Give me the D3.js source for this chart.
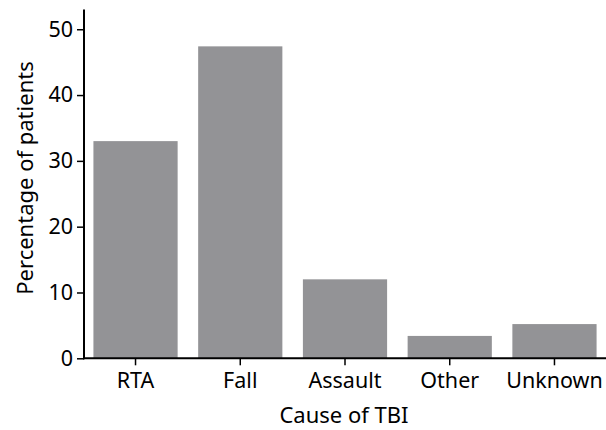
<!DOCTYPE html>
<html><head><meta charset="utf-8">
<script src="https://cdn.jsdelivr.net/npm/d3@7"></script>
<style>body{margin:0;background:#fff}</style>
</head><body>
<svg id="c" width="606" height="430"></svg>
<script>
const categories = ["RTA", "Fall", "Assault", "Other", "Unknown"];
const values = [33, 47.4, 12, 3.4, 5.2];
const yTicks = [0, 10, 20, 30, 40, 50];

const svg = d3.select("#c");
const font = "'Noto Sans', 'Open Sans', sans-serif";
const x0 = 84, x1 = 606, yBase = 358.3, yTop = 9.5;
const x = d3.scaleBand().domain(categories).range([x0, x1]).paddingInner(0.196).paddingOuter(0.09);
const y = d3.scaleLinear().domain([0, 53]).range([yBase, yTop]);

svg.selectAll("rect.bar").data(values).join("rect")
  .attr("class", "bar")
  .attr("x", (d, i) => x(categories[i]))
  .attr("width", x.bandwidth())
  .attr("y", d => y(d))
  .attr("height", d => y(0) - y(d))
  .attr("fill", "#939396");

const yAxis = svg.append("g").attr("transform", `translate(${x0},0)`)
  .call(d3.axisLeft(y).tickValues(yTicks).tickSize(7).tickPadding(4));
const xAxis = svg.append("g").attr("transform", `translate(0,${yBase})`)
  .call(d3.axisBottom(x).tickSize(7).tickPadding(7).tickSizeOuter(0));

[yAxis, xAxis].forEach(g => {
  g.select(".domain").attr("stroke", "#000").attr("stroke-width", 2);
  g.selectAll(".tick line").attr("stroke", "#000").attr("stroke-width", 1.5);
  g.selectAll(".tick text").attr("fill", "#000").style("font-family", font).style("font-size", "21.5px");
});
yAxis.select(".domain").attr("d", `M0,${yTop}V${yBase+1}`);
xAxis.select(".domain").attr("d", `M${x0-1},0H${x1}`);

svg.append("text").attr("x", 344).attr("y", 423).attr("text-anchor", "middle")
  .style("font-family", font).style("font-size", "22px").text("Cause of TBI");
svg.append("text").attr("transform", "translate(33,178) rotate(-90)").attr("text-anchor", "middle")
  .style("font-family", font).style("font-size", "22px").text("Percentage of patients");
</script>
</body></html>
